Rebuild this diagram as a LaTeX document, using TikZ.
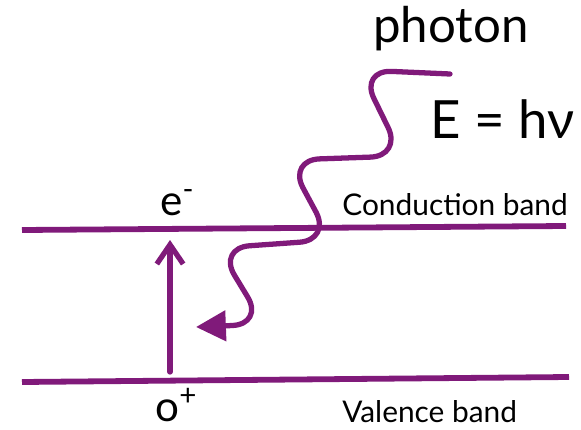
\documentclass[tikz,border=0pt]{standalone}
\usepackage{fontspec}
\setmainfont{Lato}
\usetikzlibrary{arrows.meta}
\definecolor{bandpurple}{RGB}{128,26,122}
\begin{document}
\begin{tikzpicture}
[x=0.02cm,y=-0.02cm,every node/.style={inner sep=0pt,text=black},
 band/.style={line width=3.3pt,draw=bandpurple},
 wave/.style={line width=3pt,draw=bandpurple,rounded corners=18pt},
 label/.style={anchor=base west,font=\fontsize{17}{20}\selectfont}]
\useasboundingbox (0,0) rectangle (581,429);
% bands
\coordinate (cbl) at (22,230);
\coordinate (cbr) at (566,226);
\coordinate (vbl) at (22,382);
\coordinate (vbr) at (569,377);
\draw[band] (cbl) -- (cbr);
\draw[band] (vbl) -- (vbr);
\node[label] (cond) at (342,215) {Conduction band};
\node[label] (val) at (342,422) {Valence band};
% carriers
\node[anchor=base west,font=\fontsize{24}{27}\selectfont] (elec) at (160,215) {e\textsuperscript{-}};
\node[anchor=base west,font=\fontsize{24}{27}\selectfont] (hole) at (155,421) {o\textsuperscript{+}};
\coordinate (up0) at (170,372);
\coordinate (up1) at (170,240);
\draw[line width=3pt,draw=bandpurple,line cap=round,-{Straight Barb[length=11pt,width=15pt,line width=3pt]}] (up0) -- (up1);
% photon
\node[anchor=base west,font=\fontsize{28}{32}\selectfont] (photon) at (373,43) {photon};
\node[anchor=base west,font=\fontsize{30}{34}\selectfont] (energy) at (430,138) {E = hν};
\coordinate (w0) at (450,74);
\coordinate (w1) at (360,70);
\coordinate (w2) at (402,156);
\coordinate (w3) at (288,160);
\coordinate (w4) at (331,240);
\coordinate (w5) at (218,248);
\coordinate (w6) at (264,324);
\coordinate (w7) at (222,326);
\draw[wave,line cap=round] (w0) -- (w1) -- (w2) -- (w3) -- (w4) -- (w5) -- (w6) -- (w7);
\coordinate (tip) at (196,327);
\draw[line width=3pt,draw=bandpurple,-{Triangle[length=17pt,width=17pt]}] (w7) -- (tip);
\end{tikzpicture}
\end{document}
